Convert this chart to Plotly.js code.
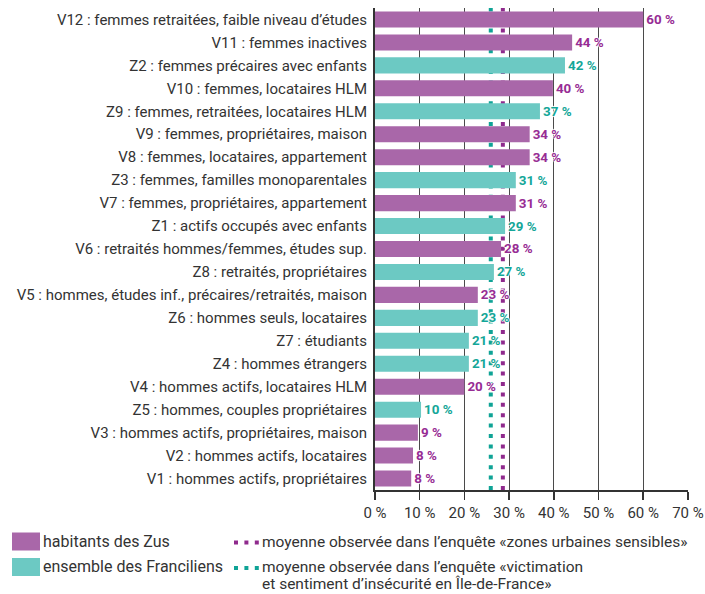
<!DOCTYPE html>
<html>
<head>
<meta charset="utf-8">
<script src="https://cdn.plot.ly/plotly-3.0.1.min.js"></script>
<style>html,body{margin:0;padding:0;background:#fff;}#chart{width:705px;height:594px;}</style>
</head>
<body>
<div id="chart"></div>
<script>
// ---- data (top to bottom) ----
const categories = [
  "V12 : femmes retraitées, faible niveau d’études",
  "V11 : femmes inactives",
  "Z2 : femmes précaires avec enfants",
  "V10 : femmes, locataires HLM",
  "Z9 : femmes, retraitées, locataires HLM",
  "V9 : femmes, propriétaires, maison",
  "V8 : femmes, locataires, appartement",
  "Z3 : femmes, familles monoparentales",
  "V7 : femmes, propriétaires, appartement",
  "Z1 : actifs occupés avec enfants",
  "V6 : retraités hommes/femmes, études sup.",
  "Z8 : retraités, propriétaires",
  "V5 : hommes, études inf., précaires/retraités, maison",
  "Z6 : hommes seuls, locataires",
  "Z7 : étudiants",
  "Z4 : hommes étrangers",
  "V4 : hommes actifs, locataires HLM",
  "Z5 : hommes, couples propriétaires",
  "V3 : hommes actifs, propriétaires, maison",
  "V2 : hommes actifs, locataires",
  "V1 : hommes actifs, propriétaires"
];
const values = [60, 44.1, 42.5, 39.8, 36.9, 34.6, 34.6, 31.5, 31.5, 29.1, 28.2, 26.6, 23.0, 23.0, 21.0, 21.0, 20.0, 10.3, 9.6, 8.5, 8.1];
const valueLabels = ["60 %","44 %","42 %","40 %","37 %","34 %","34 %","31 %","31 %","29 %","28 %","27 %","23 %","23 %","21 %","21 %","20 %","10 %","9 %","8 %","8 %"];
const seriesNames = ["habitants des Zus", "ensemble des Franciliens"];
const seriesPrefix = ["V", "Z"];
const averageNames = ["moyenne observée dans l’enquête «zones urbaines sensibles»",
                      "moyenne observée dans l’enquête «victimation<br>et sentiment d’insécurité en Île-de-France»"];
const averageValues = [28.6, 25.9];
const xTickValues = [0, 10, 20, 30, 40, 50, 60, 70];
const xTickLabels = ["0 %","10 %","20 %","30 %","40 %","50 %","60 %","70 %"];

// ---- styles ----
const barColors = ["#a967a9", "#6cc9c3"];
const textColors = ["#972c94", "#14a698"];
const dotColors = ["#8f2a8d", "#0fa396"];
const FONT = "Roboto, 'DejaVu Sans Condensed', sans-serif";

const M = {l: 375, r: 17, t: 8, b: 104};
const W = 705, H = 594;
const PW = W - M.l - M.r, PH = H - M.t - M.b;
const px = x => (x - M.l) / PW;
const py = y => (H - M.b - y) / PH;

const shadow = "1px 0 1px #fff, -1px 0 1px #fff, 0 1px 1px #fff, 0 -1px 1px #fff";

const traces = seriesPrefix.map((p, k) => {
  const idx = categories.map((c, i) => i).filter(i => categories[i].startsWith(p));
  return {
    type: "bar", orientation: "h", name: seriesNames[k],
    y: idx.map(i => categories[i]),
    x: idx.map(i => values[i]),
    text: idx.map(i => valueLabels[i]),
    textposition: "outside",
    cliponaxis: false,
    textfont: {family: FONT, size: 15, color: textColors[k], weight: 700, shadow: shadow},
    marker: {color: barColors[k], line: {width: 0}},
    hoverinfo: "x+y"
  };
});

const DASH = "4px,6.4px";
const shapes = [];
const annotations = [];
averageValues.forEach((v, k) => {
  shapes.push({type: "line", xref: "x", yref: "paper", x0: v, x1: v, y0: 0, y1: 1,
    layer: "below", line: {color: dotColors[k], width: 4, dash: DASH}});
});

// manual legend
const legRows = [541.5, 567];
seriesNames.forEach((n, k) => {
  shapes.push({type: "rect", xref: "paper", yref: "paper",
    x0: px(12), x1: px(40), y0: py(legRows[k] - 9), y1: py(legRows[k] + 9),
    fillcolor: barColors[k], line: {width: 0}});
  annotations.push({xref: "paper", yref: "paper", x: px(41), y: py(legRows[k]),
    xanchor: "left", yanchor: "middle", showarrow: false, text: n,
    font: {family: FONT, size: 16, color: "#333"}});
});
averageNames.forEach((n, k) => {
  shapes.push({type: "line", xref: "paper", yref: "paper",
    x0: px(234), x1: px(262), y0: py(legRows[k] + 1), y1: py(legRows[k] + 1),
    line: {color: dotColors[k], width: 4, dash: DASH}});
  n.split("<br>").forEach((line, j) => {
    const ann = {xref: "paper", yref: "paper", x: px(261),
      xanchor: "left", align: "left", showarrow: false, text: line, borderpad: 0,
      font: {family: FONT, size: 15.5, color: "#333"}};
    if (j === 0) { ann.y = py(legRows[k]); ann.yanchor = "middle"; }
    else { ann.y = py(H); ann.yanchor = "bottom"; }
    annotations.push(ann);
  });
});

const layout = {
  width: W, height: H,
  margin: M,
  paper_bgcolor: "#fff", plot_bgcolor: "#fff",
  showlegend: false,
  barmode: "overlay",
  bargap: 0.3,
  font: {family: FONT, size: 15, color: "#333"},
  xaxis: {
    range: [0, 70.02], tickvals: xTickValues, ticktext: xTickLabels,
    showgrid: true, gridcolor: "#4a4a4a", gridwidth: 1,
    showline: true, linecolor: "#333", linewidth: 1.5,
    ticks: "outside", ticklen: 8, tickcolor: "#333", tickwidth: 1.5,
    zeroline: false, fixedrange: true,
    tickfont: {family: FONT, size: 15, color: "#333"}
  },
  yaxis: {
    type: "category", categoryorder: "array", categoryarray: categories,
    autorange: "reversed",
    showgrid: false, showline: true, linecolor: "#333", linewidth: 2,
    ticks: "", ticklabelstandoff: 3, zeroline: false, fixedrange: true,
    tickfont: {family: FONT, size: 15, color: "#333"}
  },
  shapes: shapes,
  annotations: annotations
};

Plotly.newPlot("chart", traces, layout, {displayModeBar: false, staticPlot: true});
</script>
</body>
</html>
